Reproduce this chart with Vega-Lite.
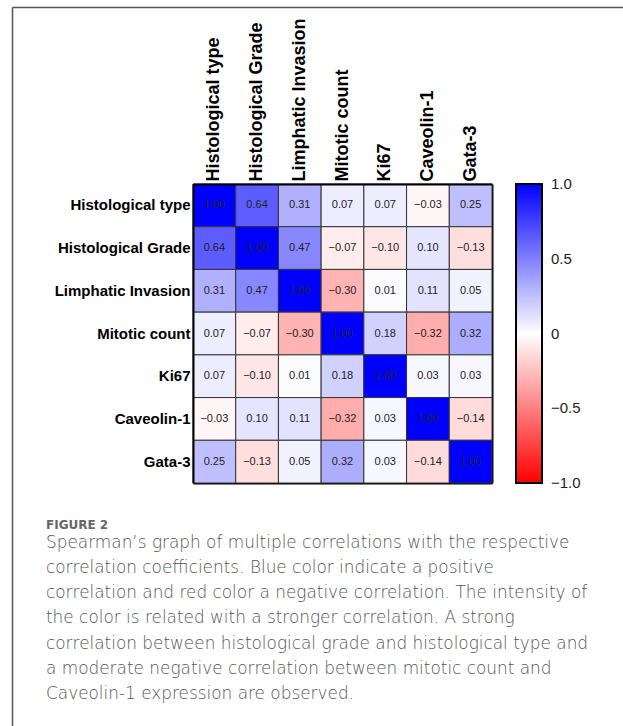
{
  "$schema": "https://vega.github.io/schema/vega-lite/v6.json",
  "width": 611,
  "height": 719,
  "autosize": {"type": "none"},
  "padding": {"left": 12, "top": 7, "right": 0, "bottom": 0},
  "background": "white",
  "config": {
    "view": {"stroke": null},
    "font": "Liberation Sans"
  },
  "title": {
    "text": "FIGURE 2",
    "subtitle": [
      "Spearman’s graph of multiple correlations with the respective",
      "correlation coefficients. Blue color indicate a positive",
      "correlation and red color a negative correlation. The intensity of",
      "the color is related with a stronger correlation. A strong",
      "correlation between histological grade and histological type and",
      "a moderate negative correlation between mitotic count and",
      "Caveolin-1 expression are observed."
    ],
    "orient": "top",
    "anchor": "start",
    "frame": "group",
    "offset": -699,
    "dx": 34,
    "font": "DejaVu Sans",
    "fontSize": 12,
    "fontWeight": "bold",
    "color": "#666666",
    "subtitleFont": "DejaVu Sans",
    "subtitleFontSize": 16.9,
    "subtitleFontWeight": 200,
    "subtitleColor": "#555555",
    "subtitleLineHeight": 25.3,
    "subtitlePadding": 3
  },
  "resolve": {
    "scale": {"x": "independent", "y": "independent"},
    "axis": {"x": "independent", "y": "independent"}
  },
  "layer": [
    {
      "data": {"name": "corr"},
      "mark": {"type": "rect", "stroke": "#333333", "strokeWidth": 1},
      "encoding": {
        "x": {
          "field": "col", "type": "nominal",
          "sort": ["Histological type", "Histological Grade", "Limphatic Invasion", "Mitotic count", "Ki67", "Caveolin-1", "Gata-3"],
          "scale": {"range": [181, 480], "paddingInner": 0, "paddingOuter": 0},
          "axis": {
            "orient": "top", "offset": -177, "title": null, "ticks": false,
            "domainColor": "black", "domainWidth": 2,
            "labelAngle": -90, "labelAlign": "left", "labelBaseline": "middle",
            "labelPadding": 3, "labelFontSize": 18, "labelFontWeight": "bold",
            "labelColor": "black", "labelFont": "Liberation Sans", "labelLimit": 250
          }
        },
        "y": {
          "field": "row", "type": "nominal",
          "sort": ["Histological type", "Histological Grade", "Limphatic Invasion", "Mitotic count", "Ki67", "Caveolin-1", "Gata-3"],
          "scale": {"range": [177, 476], "paddingInner": 0, "paddingOuter": 0},
          "axis": {
            "orient": "left", "offset": -181, "title": null, "ticks": false,
            "domainColor": "black", "domainWidth": 2,
            "labelPadding": 3, "labelFontSize": 15, "labelFontWeight": "bold",
            "labelColor": "black", "labelFont": "Liberation Sans", "labelLimit": 250
          }
        },
        "color": {
          "field": "r", "type": "quantitative",
          "scale": {"domain": [-1, 0, 1], "range": ["#ff0000", "#ffffff", "#0000ff"], "interpolate": "rgb"},
          "legend": {
            "orient": "none", "legendX": 504, "legendY": 177,
            "direction": "vertical", "title": null,
            "gradientLength": 299, "gradientThickness": 26,
            "gradientStrokeColor": "black", "gradientStrokeWidth": 2,
            "values": [-1, -0.5, 0, 0.5, 1],
            "labelExpr": "datum.value == 0 ? '0' : format(datum.value, '.1f')",
            "labelFontSize": 15, "labelColor": "#222222", "labelFont": "Liberation Sans",
            "labelOffset": 9, "labelBaseline": "middle", "labelOverlap": false,
            "encode": {"labels": {"update": {"baseline": {"value": "middle"}}}}
          }
        }
      }
    },
    {
      "data": {"name": "corr"},
      "mark": {"type": "text", "fontSize": 11, "color": "#222222", "font": "Liberation Sans"},
      "encoding": {
        "x": {
          "field": "col", "type": "nominal",
          "sort": ["Histological type", "Histological Grade", "Limphatic Invasion", "Mitotic count", "Ki67", "Caveolin-1", "Gata-3"],
          "scale": {"range": [181, 480], "paddingInner": 0, "paddingOuter": 0},
          "axis": {
            "orient": "bottom", "offset": -243, "title": null, "ticks": false, "labels": false,
            "domainColor": "black", "domainWidth": 2
          }
        },
        "y": {
          "field": "row", "type": "nominal",
          "sort": ["Histological type", "Histological Grade", "Limphatic Invasion", "Mitotic count", "Ki67", "Caveolin-1", "Gata-3"],
          "scale": {"range": [177, 476], "paddingInner": 0, "paddingOuter": 0},
          "axis": {
            "orient": "right", "offset": -131, "title": null, "ticks": false, "labels": false,
            "domainColor": "black", "domainWidth": 2
          }
        },
        "text": {"field": "r", "type": "quantitative", "format": ".2f"}
      }
    },
    {
      "data": {"values": [{"fx": 0, "fy": 0}, {"fx": 1, "fy": 1}]},
      "mark": {"type": "point", "opacity": 0},
      "encoding": {
        "x": {
          "field": "fx", "type": "quantitative",
          "scale": {"domain": [0, 1], "nice": false, "zero": false},
          "axis": {"orient": "top", "offset": 0, "title": null, "ticks": false, "labels": false, "grid": false, "domainColor": "#555555", "domainWidth": 1.5}
        },
        "y": {
          "field": "fy", "type": "quantitative",
          "scale": {"domain": [0, 1], "nice": false, "zero": false},
          "axis": {"orient": "left", "offset": 0, "title": null, "ticks": false, "labels": false, "grid": false, "domainColor": "#555555", "domainWidth": 1.5}
        }
      }
    }
  ],
  "datasets": {
    "corr": [
      {"row": "Histological type", "col": "Histological type", "r": 1.00},
      {"row": "Histological type", "col": "Histological Grade", "r": 0.64},
      {"row": "Histological type", "col": "Limphatic Invasion", "r": 0.31},
      {"row": "Histological type", "col": "Mitotic count", "r": 0.07},
      {"row": "Histological type", "col": "Ki67", "r": 0.07},
      {"row": "Histological type", "col": "Caveolin-1", "r": -0.03},
      {"row": "Histological type", "col": "Gata-3", "r": 0.25},
      {"row": "Histological Grade", "col": "Histological type", "r": 0.64},
      {"row": "Histological Grade", "col": "Histological Grade", "r": 1.00},
      {"row": "Histological Grade", "col": "Limphatic Invasion", "r": 0.47},
      {"row": "Histological Grade", "col": "Mitotic count", "r": -0.07},
      {"row": "Histological Grade", "col": "Ki67", "r": -0.10},
      {"row": "Histological Grade", "col": "Caveolin-1", "r": 0.10},
      {"row": "Histological Grade", "col": "Gata-3", "r": -0.13},
      {"row": "Limphatic Invasion", "col": "Histological type", "r": 0.31},
      {"row": "Limphatic Invasion", "col": "Histological Grade", "r": 0.47},
      {"row": "Limphatic Invasion", "col": "Limphatic Invasion", "r": 1.00},
      {"row": "Limphatic Invasion", "col": "Mitotic count", "r": -0.30},
      {"row": "Limphatic Invasion", "col": "Ki67", "r": 0.01},
      {"row": "Limphatic Invasion", "col": "Caveolin-1", "r": 0.11},
      {"row": "Limphatic Invasion", "col": "Gata-3", "r": 0.05},
      {"row": "Mitotic count", "col": "Histological type", "r": 0.07},
      {"row": "Mitotic count", "col": "Histological Grade", "r": -0.07},
      {"row": "Mitotic count", "col": "Limphatic Invasion", "r": -0.30},
      {"row": "Mitotic count", "col": "Mitotic count", "r": 1.00},
      {"row": "Mitotic count", "col": "Ki67", "r": 0.18},
      {"row": "Mitotic count", "col": "Caveolin-1", "r": -0.32},
      {"row": "Mitotic count", "col": "Gata-3", "r": 0.32},
      {"row": "Ki67", "col": "Histological type", "r": 0.07},
      {"row": "Ki67", "col": "Histological Grade", "r": -0.10},
      {"row": "Ki67", "col": "Limphatic Invasion", "r": 0.01},
      {"row": "Ki67", "col": "Mitotic count", "r": 0.18},
      {"row": "Ki67", "col": "Ki67", "r": 1.00},
      {"row": "Ki67", "col": "Caveolin-1", "r": 0.03},
      {"row": "Ki67", "col": "Gata-3", "r": 0.03},
      {"row": "Caveolin-1", "col": "Histological type", "r": -0.03},
      {"row": "Caveolin-1", "col": "Histological Grade", "r": 0.10},
      {"row": "Caveolin-1", "col": "Limphatic Invasion", "r": 0.11},
      {"row": "Caveolin-1", "col": "Mitotic count", "r": -0.32},
      {"row": "Caveolin-1", "col": "Ki67", "r": 0.03},
      {"row": "Caveolin-1", "col": "Caveolin-1", "r": 1.00},
      {"row": "Caveolin-1", "col": "Gata-3", "r": -0.14},
      {"row": "Gata-3", "col": "Histological type", "r": 0.25},
      {"row": "Gata-3", "col": "Histological Grade", "r": -0.13},
      {"row": "Gata-3", "col": "Limphatic Invasion", "r": 0.05},
      {"row": "Gata-3", "col": "Mitotic count", "r": 0.32},
      {"row": "Gata-3", "col": "Ki67", "r": 0.03},
      {"row": "Gata-3", "col": "Caveolin-1", "r": -0.14},
      {"row": "Gata-3", "col": "Gata-3", "r": 1.00}
    ]
  }
}
